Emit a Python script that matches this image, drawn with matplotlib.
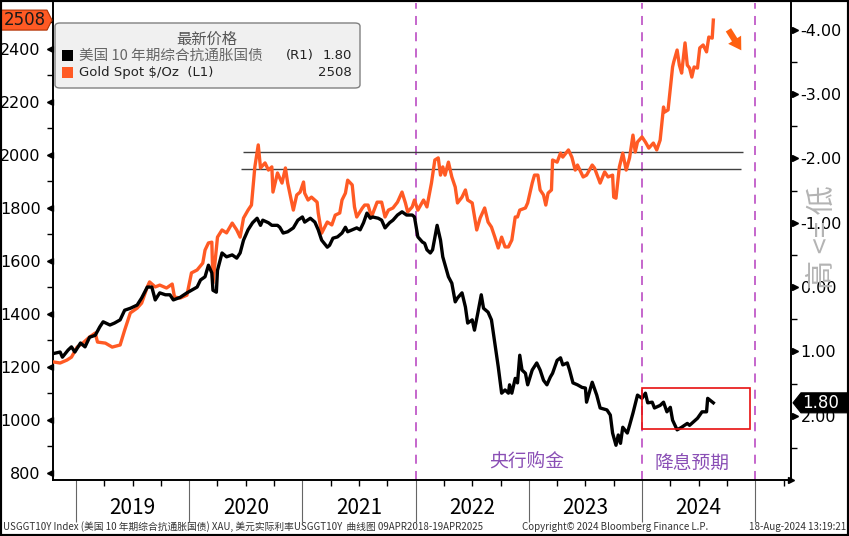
import matplotlib
matplotlib.use("Agg")
import matplotlib.pyplot as plt
import matplotlib.transforms as mtrans
from matplotlib.patches import Polygon, Rectangle, FancyBboxPatch
from matplotlib.ticker import FixedLocator, FuncFormatter

# ---------------- data ----------------
gold_dates = [
    2018.80, 2018.86, 2018.92, 2018.96, 2019.01, 2019.06, 2019.12, 2019.17, 2019.19, 2019.26,
    2019.32, 2019.39, 2019.43, 2019.48, 2019.54, 2019.58, 2019.63, 2019.65, 2019.70, 2019.74,
    2019.80, 2019.85, 2019.87, 2019.92, 2019.98, 2020.02, 2020.07, 2020.12, 2020.14, 2020.17,
    2020.20, 2020.21, 2020.25, 2020.29, 2020.33, 2020.38, 2020.42, 2020.45, 2020.48, 2020.52,
    2020.55, 2020.58, 2020.61, 2020.63, 2020.67, 2020.70, 2020.73, 2020.74, 2020.78, 2020.82,
    2020.85, 2020.87, 2020.92, 2020.95, 2020.98, 2021.01, 2021.02, 2021.05, 2021.08, 2021.13,
    2021.14, 2021.17, 2021.22, 2021.26, 2021.29, 2021.33, 2021.35, 2021.38, 2021.40, 2021.44,
    2021.46, 2021.48, 2021.53, 2021.55, 2021.58, 2021.61, 2021.66, 2021.70, 2021.73, 2021.76,
    2021.80, 2021.84, 2021.88, 2021.91, 2021.93, 2021.97, 2021.99, 2022.02, 2022.07, 2022.10,
    2022.14, 2022.17, 2022.20, 2022.22, 2022.24, 2022.26, 2022.29, 2022.32, 2022.35, 2022.37,
    2022.41, 2022.44, 2022.46, 2022.50, 2022.54, 2022.57, 2022.61, 2022.64, 2022.67, 2022.70,
    2022.73, 2022.76, 2022.79, 2022.82, 2022.85, 2022.88, 2022.90, 2022.92, 2022.97, 2022.99,
    2023.03, 2023.05, 2023.08, 2023.10, 2023.13, 2023.15, 2023.17, 2023.20, 2023.21, 2023.25,
    2023.28, 2023.30, 2023.35, 2023.38, 2023.41, 2023.43, 2023.48, 2023.51, 2023.56, 2023.58,
    2023.63, 2023.67, 2023.70, 2023.74, 2023.75, 2023.77, 2023.80, 2023.83, 2023.86, 2023.89,
    2023.92, 2023.94, 2023.96, 2024.00, 2024.03, 2024.06, 2024.10, 2024.13, 2024.16, 2024.19,
    2024.20, 2024.23, 2024.27, 2024.28, 2024.31, 2024.33, 2024.35, 2024.38, 2024.40, 2024.42,
    2024.44, 2024.46, 2024.49, 2024.51, 2024.54, 2024.57, 2024.59, 2024.62, 2024.63,
]
gold_values = [
    1218, 1214, 1225, 1236, 1274, 1289, 1312, 1327, 1293, 1289,
    1274, 1282, 1338, 1403, 1421, 1440, 1501, 1520, 1501, 1508,
    1497, 1512, 1463, 1459, 1470, 1554, 1565, 1591, 1640, 1667,
    1670, 1516, 1689, 1716, 1705, 1742, 1716, 1689, 1761, 1791,
    1810, 1954, 2037, 1950, 1969, 1942, 1954, 1859, 1931, 1893,
    1950, 1893, 1791, 1848, 1859, 1897, 1855, 1829, 1840, 1821,
    1780, 1704, 1746, 1735, 1772, 1780, 1829, 1855, 1904, 1886,
    1803, 1765, 1799, 1810, 1810, 1765, 1821, 1821, 1765, 1791,
    1799, 1821, 1859, 1818, 1784, 1803, 1829, 1791, 1829, 1803,
    1893, 1980, 1988, 1923, 1954, 1923, 1972, 1916, 1878, 1818,
    1840, 1867, 1829, 1818, 1716, 1761, 1799, 1746, 1727, 1689,
    1648, 1689, 1652, 1652, 1678, 1765, 1765, 1791, 1799, 1818,
    1893, 1923, 1923, 1867, 1848, 1810, 1855, 1867, 1980, 1972,
    2006, 1991, 2018, 1991, 1942, 1961, 1916, 1923, 1961, 1950,
    1893, 1935, 1916, 1923, 1840, 1836, 1954, 2006, 1942, 1988,
    2074, 2010, 2048, 2067, 2048, 2025, 2044, 2018, 2055, 2180,
    2161, 2169, 2331, 2350, 2395, 2338, 2308, 2422, 2338, 2327,
    2293, 2331, 2327, 2403, 2414, 2388, 2444, 2440, 2508,
]
tips_dates = [
    2018.81, 2018.86, 2018.88, 2018.93, 2018.96, 2018.99, 2019.04, 2019.08, 2019.12, 2019.17,
    2019.21, 2019.24, 2019.30, 2019.34, 2019.39, 2019.43, 2019.48, 2019.54, 2019.58, 2019.63,
    2019.67, 2019.70, 2019.74, 2019.79, 2019.83, 2019.86, 2019.92, 2019.98, 2020.02, 2020.07,
    2020.10, 2020.14, 2020.17, 2020.20, 2020.21, 2020.24, 2020.25, 2020.29, 2020.33, 2020.38,
    2020.42, 2020.45, 2020.48, 2020.52, 2020.56, 2020.60, 2020.63, 2020.65, 2020.70, 2020.73,
    2020.78, 2020.80, 2020.83, 2020.87, 2020.92, 2020.96, 2021.00, 2021.02, 2021.07, 2021.11,
    2021.14, 2021.17, 2021.22, 2021.24, 2021.27, 2021.31, 2021.35, 2021.38, 2021.40, 2021.44,
    2021.48, 2021.51, 2021.54, 2021.57, 2021.60, 2021.62, 2021.67, 2021.70, 2021.73, 2021.77,
    2021.80, 2021.84, 2021.88, 2021.92, 2021.97, 2021.99, 2022.02, 2022.06, 2022.08, 2022.10,
    2022.13, 2022.15, 2022.19, 2022.22, 2022.24, 2022.29, 2022.32, 2022.35, 2022.37, 2022.41,
    2022.44, 2022.46, 2022.50, 2022.52, 2022.55, 2022.58, 2022.60, 2022.64, 2022.67, 2022.70,
    2022.73, 2022.76, 2022.79, 2022.82, 2022.83, 2022.85, 2022.88, 2022.90, 2022.92, 2022.94,
    2022.97, 2022.99, 2023.03, 2023.07, 2023.10, 2023.13, 2023.16, 2023.19, 2023.21, 2023.25,
    2023.28, 2023.30, 2023.34, 2023.36, 2023.39, 2023.43, 2023.47, 2023.50, 2023.51, 2023.56,
    2023.60, 2023.63, 2023.69, 2023.72, 2023.74, 2023.77, 2023.79, 2023.81, 2023.83, 2023.87,
    2023.89, 2023.92, 2023.96, 2024.00, 2024.03, 2024.05, 2024.09, 2024.11, 2024.16, 2024.19,
    2024.22, 2024.25, 2024.27, 2024.31, 2024.35, 2024.40, 2024.42, 2024.47, 2024.49, 2024.53,
    2024.57, 2024.58, 2024.63,
]
tips_values = [
    1.03, 1.01, 1.09, 0.98, 0.93, 1.01, 0.87, 0.93, 0.78, 0.75,
    0.62, 0.54, 0.59, 0.56, 0.51, 0.36, 0.33, 0.28, 0.17, 0.00,
    0.00, 0.20, 0.09, 0.12, 0.12, 0.20, 0.16, 0.09, 0.05, 0.00,
    -0.11, -0.16, -0.34, -0.22, 0.05, 0.08, -0.26, -0.53, -0.47, -0.50,
    -0.45, -0.53, -0.73, -0.89, -1.00, -1.07, -0.96, -1.04, -1.00, -0.96,
    -0.96, -0.93, -0.84, -0.86, -0.92, -1.04, -1.09, -1.01, -1.07, -1.01,
    -0.89, -0.73, -0.62, -0.65, -0.76, -0.78, -0.84, -0.93, -0.86, -0.89,
    -0.92, -0.89, -1.00, -1.15, -1.07, -1.09, -1.07, -1.04, -0.92, -1.00,
    -1.04, -1.12, -1.17, -1.12, -1.12, -1.09, -0.78, -0.70, -0.68, -0.58,
    -0.53, -0.58, -0.96, -0.73, -0.47, -0.16, -0.06, 0.23, 0.17, 0.09,
    0.31, 0.56, 0.51, 0.67, 0.40, 0.12, 0.33, 0.39, 0.51, 0.87,
    1.24, 1.65, 1.60, 1.65, 1.52, 1.65, 1.42, 1.49, 1.06, 1.29,
    1.34, 1.52, 1.29, 1.18, 1.29, 1.45, 1.52, 1.40, 1.34, 1.14,
    1.10, 1.21, 1.18, 1.29, 1.49, 1.52, 1.56, 1.57, 1.79, 1.48,
    1.68, 1.88, 1.91, 1.99, 2.27, 2.46, 2.30, 2.43, 2.18, 2.27,
    2.15, 1.96, 1.68, 1.73, 1.65, 1.80, 1.79, 1.88, 1.84, 1.79,
    1.94, 1.87, 2.07, 2.22, 2.18, 2.12, 2.15, 2.07, 2.04, 1.94,
    1.94, 1.73, 1.80,
]
year_labels = ["2019", "2020", "2021", "2022", "2023", "2024"]
year_starts = [2019, 2020, 2021, 2022, 2023, 2024, 2025]
left_ticks = [800, 1000, 1200, 1400, 1600, 1800, 2000, 2200, 2400]
right_ticks = [-4, -3, -2, -1, 0, 1, 2]
resistance_levels = [2009, 1945]
resistance_start = [2020.475, 2020.46]
resistance_end = [2024.89, 2024.87]
event_lines = [2022.0, 2024.0, 2025.0]
box_dates = [2024.0, 2024.955]
box_yields = [1.57, 2.21]
legend_title = "最新价格"
tips_name = "美国 10 年期综合抗通胀国债"
gold_name = "Gold Spot $/Oz  (L1)"
tips_last_label = "1.80"
gold_last_label = "2508"
note_cb = "央行购金"
note_cut = "降息预期"
side_note = "高 <= 低"
footer_left = "USGGT10Y Index (美国 10 年期综合抗通胀国债) XAU, 美元实际利率USGGT10Y  曲线图 09APR2018-19APR2025"
footer_mid = "Copyright© 2024 Bloomberg Finance L.P."
footer_right = "18-Aug-2024 13:19:21"

# ---------------- style ----------------
ORANGE = "#ff5a24"
PURPLE = "#c05ac8"
CJK = ["Noto Sans CJK SC", "DejaVu Sans"]
NARROW = ["Liberation Sans Narrow", "Noto Sans CJK SC", "DejaVu Sans"]
plt.rcParams["font.family"] = ["DejaVu Sans", "Noto Sans CJK SC"]

W, H = 849, 536
fig = plt.figure(figsize=(W / 100, H / 100), dpi=100)
ax = fig.add_axes([53 / W, 1 - 480 / H, 738 / W, 477 / H])
ax2 = ax.twinx()

ax.set_xlim(2018.797, 2025.316)
ax.set_ylim(772.5, 2572.5)
ax2.set_ylim(3.0, -4.417)

# lines
ax.plot(gold_dates, gold_values, color=ORANGE, lw=2.4, zorder=3, solid_joinstyle="round")
ax2.plot(tips_dates, tips_values, color="black", lw=2.4, zorder=3, solid_joinstyle="round")

# horizontal resistance lines
ax.hlines(resistance_levels, resistance_start, resistance_end, color="#404040", lw=1.0, zorder=2)
# vertical dashed event lines
for xv in event_lines:
    ax.axvline(xv, color=PURPLE, lw=1.3, ls=(0, (5, 4)), zorder=1)
# red box
ax2.add_patch(Rectangle((box_dates[0], box_yields[0]), box_dates[1] - box_dates[0],
                        box_yields[1] - box_yields[0], fill=False, edgecolor="#e81010", lw=1.2, zorder=4))

# spines
for s in ["top", "right"]:
    ax.spines[s].set_visible(False)
ax2.spines["top"].set_visible(False)
ax2.spines["left"].set_visible(False)
ax2.spines["bottom"].set_visible(False)
ax.spines["left"].set_linewidth(1.4)
ax.spines["bottom"].set_linewidth(1.4)
ax2.spines["right"].set_linewidth(1.4)

# left ticks
ax.yaxis.set_major_locator(FixedLocator(left_ticks))
ax.yaxis.set_minor_locator(FixedLocator([t + 100 for t in left_ticks]))
ax.tick_params(axis="y", which="major", length=0, pad=9, labelsize=11.5, colors="black")
ax.tick_params(axis="y", which="minor", length=4, width=1)
blend_l = mtrans.blended_transform_factory(ax.transAxes, ax.transData)
ax.plot([-3.5 / 738] * len(left_ticks), left_ticks, ls="none", marker="<", ms=5,
        color="black", transform=blend_l, clip_on=False)

# right ticks
ax2.yaxis.set_major_locator(FixedLocator(right_ticks))
ax2.yaxis.set_minor_locator(FixedLocator([t + 0.5 for t in right_ticks]))
ax2.yaxis.set_major_formatter(FuncFormatter(lambda v, p: ("%.2f" % v).replace("\u2212", "-")))
ax2.tick_params(axis="y", which="major", length=0, pad=7, labelsize=11.5)
ax2.tick_params(axis="y", which="minor", length=4, width=1)
blend_r = mtrans.blended_transform_factory(ax2.transAxes, ax2.transData)
ax2.plot([1 + 3.5 / 738] * len(right_ticks), right_ticks, ls="none", marker=">", ms=5,
         color="black", transform=blend_r, clip_on=False)

# x ticks
ax.xaxis.set_major_locator(FixedLocator(year_starts))
ax.xaxis.set_minor_locator(FixedLocator([y + q for y in [2018] + year_starts[:-1] for q in (0.25, 0.5, 0.75)] + [2025.25]))
ax.tick_params(axis="x", which="major", length=30, width=0.8, color="#666666", labelbottom=False)
ax.tick_params(axis="x", which="minor", length=4, width=1, color="black")
ax.plot([1.0], [0.0], marker=">", ms=5, color="black", transform=ax.transAxes, clip_on=False)

blend_x = mtrans.blended_transform_factory(ax.transData, ax.transAxes)
for lab, ys in zip(year_labels, year_starts):
    ax.text(ys + 0.5, -28 / 477, lab, transform=blend_x, ha="center", va="center",
            fontsize=15, family=NARROW, clip_on=False)

# notes
ax.text(2022.98, 18 / 477, note_cb, transform=blend_x, ha="center", va="center",
        fontsize=13.5, color="#8a4fb5", family=CJK, fontweight="medium")
ax.text(2024.44, 16 / 477, note_cut, transform=blend_x, ha="center", va="center",
        fontsize=13.5, color="#8a4fb5", family=CJK, fontweight="medium")

# orange arrow
ax.annotate("", xy=(2024.89, 2385), xytext=(2024.75, 2480),
            arrowprops=dict(arrowstyle="simple,head_width=1.1,head_length=0.9,tail_width=0.45",
                            color="#ff6010", lw=0), zorder=5)

# ---------- figure-level decorations ----------
def fx(px):
    return px / W

def fy(py):  # from top pixel
    return 1 - py / H

# legend box
fig.add_artist(FancyBboxPatch((fx(55), fy(88)), fx(305), 65 / H,
                              boxstyle="round,pad=0,rounding_size=0.006",
                              facecolor="#f0f0f0", edgecolor="#808080", lw=1.0,
                              transform=fig.transFigure, zorder=10))
fig.text(fx(207), fy(39), legend_title, ha="center", va="center", fontsize=11,
         color="#555555", family=CJK, zorder=11)
fig.add_artist(Rectangle((fx(62), fy(61)), fx(11), 11 / H, facecolor="black",
                         edgecolor="none", transform=fig.transFigure, zorder=11))
fig.add_artist(Rectangle((fx(62), fy(78)), fx(11), 11 / H, facecolor=ORANGE,
                         edgecolor="none", transform=fig.transFigure, zorder=11))
fig.text(fx(79), fy(55.5), tips_name, ha="left", va="center", fontsize=10.5,
         color="#666666", family=CJK, zorder=11)
fig.text(fx(286), fy(55.5), "(R1)", ha="left", va="center", fontsize=9.5,
         color="#222222", zorder=11)
fig.text(fx(352), fy(55.5), tips_last_label, ha="right", va="center", fontsize=9.5,
         color="#222222", zorder=11)
fig.text(fx(79), fy(72.5), gold_name, ha="left", va="center", fontsize=9.5,
         color="#222222", zorder=11)
fig.text(fx(352), fy(72.5), gold_last_label, ha="right", va="center", fontsize=9.5,
         color="#222222", zorder=11)

# last-value tags (positions from the data)
gy = ax.transData.transform((gold_dates[-1], gold_values[-1]))[1]
ty = ax2.transData.transform((tips_dates[-1], tips_values[-1]))[1]
ident = mtrans.IdentityTransform()
fig.add_artist(Polygon([(1, gy - 10), (47, gy - 10), (52, gy), (47, gy + 10), (1, gy + 10)],
                       closed=True, facecolor=ORANGE, edgecolor="#b03000", lw=0.8,
                       transform=ident, zorder=12))
fig.text(25 / W, gy / H, gold_last_label, ha="center", va="center", fontsize=12,
         color="#1a1a1a", zorder=13)
fig.add_artist(Polygon([(793, ty), (801, ty - 10), (849, ty - 10), (849, ty + 10), (801, ty + 10)],
                       closed=True, facecolor="black", edgecolor="black", lw=0.8,
                       transform=ident, zorder=12))
fig.text(821 / W, ty / H, tips_last_label, ha="center", va="center", fontsize=12,
         color="white", zorder=13)

# side note
fig.text(fx(823), fy(237), side_note, rotation=90, ha="center", va="center", fontsize=21,
         color="#b4b4b4", family=CJK, zorder=9)

# footer
fig.text(fx(3), fy(527), footer_left, ha="left", va="center", fontsize=7, family=NARROW, color="#333333")
fig.text(fx(522), fy(527), footer_mid, ha="left", va="center", fontsize=7, family=NARROW, color="#333333")
fig.text(fx(846), fy(527), footer_right, ha="right", va="center", fontsize=7, family=NARROW, color="#333333")

# outer frame
fig.add_artist(Rectangle((0, 0), 1, 1, fill=False, edgecolor="black", lw=3,
                         transform=fig.transFigure, zorder=20))

fig.savefig("out.png", dpi=100)
